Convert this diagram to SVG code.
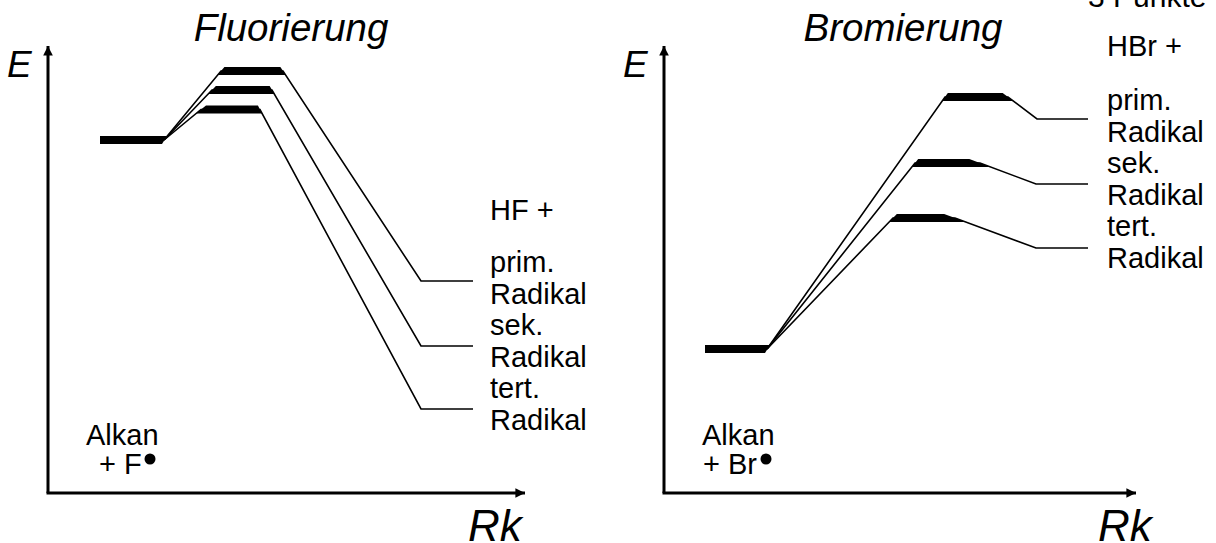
<svg xmlns="http://www.w3.org/2000/svg" width="1216" height="543" viewBox="0 0 1216 543">
<defs>
<style>
.t{font-family:"Liberation Sans",Arial,sans-serif;font-size:29px;fill:#000}
.ti{font-family:"Liberation Sans",Arial,sans-serif;font-style:italic;font-size:38.5px;fill:#000}
.ax{stroke:#000;stroke-width:3;fill:none}
.ln{stroke:#000;stroke-width:1.6;fill:none;stroke-linejoin:miter}
.bar{fill:#000}
</style>
<marker id="ah" viewBox="0 0 10 10" refX="10" refY="5" markerWidth="5.5" markerHeight="3.2" markerUnits="strokeWidth" orient="auto">
<path d="M0,0 L10,5 L0,10 z" fill="#000"/>
</marker>
</defs>
<rect width="1216" height="543" fill="#fff"/>
<g id="partial-text"><text class="t" x="1088" y="7" style="font-size:30px">3 Punkte</text></g>
<g id="left-panel">
<g id="left-axes">
<line class="ax" x1="48" y1="493" x2="48" y2="46" marker-end="url(#ah)"/>
<line class="ax" x1="46.5" y1="493" x2="525" y2="493" marker-end="url(#ah)"/>
<text class="ti" x="291" y="41" text-anchor="middle">Fluorierung</text>
<text class="ti" x="7" y="77" style="font-size:37px">E</text>
<text class="ti" x="468" y="541" style="font-size:44px">Rk</text>
</g>
<g id="left-alkan">
<polygon class="bar" points="100,136 167,136 162,144 100,144"/>
<text class="t" x="86" y="445">Alkan</text>
<text class="t" x="99" y="474">+ F</text>
<circle cx="150" cy="459" r="5.5"/>
</g>
<g id="left-ts">
<polygon class="bar" points="224.4,67 280.4,67 285.6,75 217.6,75"/>
<polygon class="bar" points="215.9,86 269.7,86 274.3,94 208.1,94"/>
<polygon class="bar" points="206,105.5 257.9,105.5 262.1,113.5 196,113.5"/>
</g>
<g id="left-products">
<text class="t" x="490" y="220">HF +</text>
<text class="t" x="490" y="272">prim.</text>
<text class="t" x="490" y="303.5">Radikal</text>
<text class="t" x="490" y="335">sek.</text>
<text class="t" x="490" y="366.5">Radikal</text>
<text class="t" x="490" y="398">tert.</text>
<text class="t" x="490" y="429.5">Radikal</text>
</g>
</g>
<g id="right-panel">
<g id="right-axes">
<line class="ax" x1="664" y1="493" x2="664" y2="46" marker-end="url(#ah)"/>
<line class="ax" x1="662.5" y1="493" x2="1136" y2="493" marker-end="url(#ah)"/>
<text class="ti" x="903" y="41" text-anchor="middle">Bromierung</text>
<text class="ti" x="623" y="77" style="font-size:37px">E</text>
<text class="ti" x="1098" y="541" style="font-size:44px">Rk</text>
</g>
<g id="right-alkan">
<polygon class="bar" points="705,345 770,345 765,353 705,353"/>
<text class="t" x="702" y="445">Alkan</text>
<text class="t" x="703" y="474">+ Br</text>
<circle cx="766" cy="459" r="5.5"/>
</g>
<g id="right-ts">
<polygon class="bar" points="947.8,93 1002.7,93 1013.3,101 942.2,101"/>
<polygon class="bar" points="918.2,159 969.3,159 990.7,167 911.8,167"/>
<polygon class="bar" points="896.8,214 944.2,214 965.8,222 889.2,222"/>
</g>
<g id="right-products">
<text class="t" x="1107" y="56">HBr +</text>
<text class="t" x="1107" y="110">prim.</text>
<text class="t" x="1107" y="141.5">Radikal</text>
<text class="t" x="1107" y="173">sek.</text>
<text class="t" x="1107" y="204.5">Radikal</text>
<text class="t" x="1107" y="236">tert.</text>
<text class="t" x="1107" y="267.5">Radikal</text>
</g>
</g>
<g id="connectors">
<polyline class="ln" points="164,140 221,71 283,71 421,281 473,281"/>
<polyline class="ln" points="164,140 212,90 272,90 421,346 473,346"/>
<polyline class="ln" points="164,140 201,109.5 260,109.5 421,409 473,409"/>
<polyline class="ln" points="767,349 945,97 1008,97 1037,119 1088,119"/>
<polyline class="ln" points="767,349 915,163 980,163 1036,184 1088,184"/>
<polyline class="ln" points="767,349 893,218 955,218 1036,248 1088,248"/>
</g>
</svg>
